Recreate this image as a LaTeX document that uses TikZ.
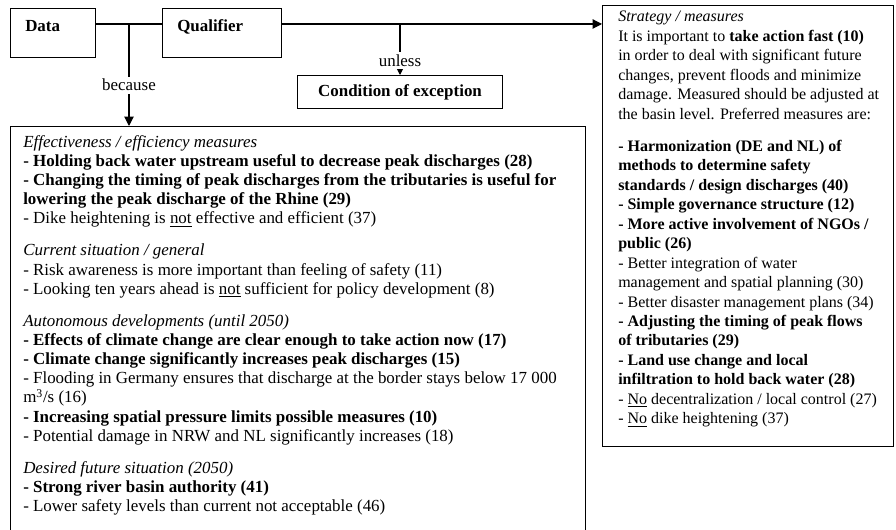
\documentclass[tikz,border=0pt]{standalone}
\usepackage{fontspec}
\setmainfont{Liberation Serif}
\usetikzlibrary{arrows.meta,positioning}
\tikzstyle{arrow} = [line width=0.8pt,-{Triangle[length=7pt,width=7pt]}]
\tikzstyle{link} = [line width=0.8pt]
\tikzstyle{claim} = [rectangle, draw, line width=0.8pt, anchor=north west, inner sep=0pt]
\tikzstyle{panel} = [rectangle, draw, line width=0.8pt, anchor=north west, inner sep=0pt]
\tikzstyle{txt} = [anchor=north west, align=left, inner sep=0pt, font=\fontsize{12.7}{14.4}\selectfont]
\tikzstyle{tag} = [fill=white, inner xsep=1pt, inner ysep=2pt, font=\fontsize{12.7}{14}\selectfont]

\begin{document}
\begin{tikzpicture}[x=0.75pt, y=-0.75pt]
\useasboundingbox (0,0) rectangle (896,530);
% argument boxes
\node (data) [claim, minimum width=63.75pt, minimum height=36.75pt] at (10,8) {};
\node (qual) [claim, minimum width=89.25pt, minimum height=36.75pt] at (162,8) {};
\node (cond) [claim, minimum width=153.75pt, minimum height=24.75pt, font=\bfseries\fontsize{12.7}{14}\selectfont] at (297,75) {Condition of exception};
\node (main) [panel, minimum width=431.25pt, minimum height=306pt] at (10,126) {};
\node (strat) [panel, minimum width=218.25pt, minimum height=330.75pt] at (602,5) {};

\node (datalbl) [anchor=base west, inner sep=0pt, font=\bfseries\fontsize{12.7}{14}\selectfont] at (25,32) {Data};
\node (quallbl) [anchor=base west, inner sep=0pt, font=\bfseries\fontsize{12.7}{14}\selectfont] at (177,32) {Qualifier};

% connectors
\coordinate (bc) at (129,24);
\coordinate (ul) at (400,24);
\draw[link] ([yshift=-12pt]data.north east) -- ([yshift=-12pt]qual.north west);
\draw[arrow] ([yshift=-12pt]qual.north east) -- ([yshift=-14.25pt]strat.north west);
\draw[arrow] (bc) -- (bc |- main.north) node[tag, pos=0.6] {because};
\draw[arrow] (ul) -- (ul |- cond.north) node[tag, pos=0.72] {unless};

% backing
\node (backing) [txt] at (23,135) {\textit{Effectiveness / efficiency measures}\\
\textbf{- Holding back water upstream useful to decrease peak discharges (28)}\\
\textbf{- Changing the timing of peak discharges from the tributaries is useful for}\\
\textbf{lowering the peak discharge of the Rhine (29)}\\
- Dike heightening is \underline{not} effective and efficient (37)\\[9.5pt]
\textit{Current situation / general}\\
- Risk awareness is more important than feeling of safety (11)\\
- Looking ten years ahead is \underline{not} sufficient for policy development (8)\\[9.5pt]
\textit{Autonomous developments (until 2050)}\\
\textbf{- Effects of climate change are clear enough to take action now (17)}\\
\textbf{- Climate change significantly increases peak discharges (15)}\\
- Flooding in Germany ensures that discharge at the border stays below 17 000\\
m\textsuperscript{3}/s (16)\\
\textbf{- Increasing spatial pressure limits possible measures (10)}\\
- Potential damage in NRW and NL significantly increases (18)\\[9.5pt]
\textit{Desired future situation (2050)}\\
\textbf{- Strong river basin authority (41)}\\
- Lower safety levels than current not acceptable (46)};

% claim
\node (strattxt) [txt, font=\fontsize{12}{14.6}\selectfont] at (618,11) {\textit{Strategy / measures}\\
It is important to \textbf{take action fast (10)}\\
in order to deal with significant future\\
changes, prevent floods and minimize\\
damage. Measured should be adjusted at\\
the basin level. Preferred measures are:\\[9.5pt]
\textbf{- Harmonization (DE and NL) of}\\
\textbf{methods to determine safety}\\
\textbf{standards / design discharges (40)}\\
\textbf{- Simple governance structure (12)}\\
\textbf{- More active involvement of NGOs /}\\
\textbf{public (26)}\\
- Better integration of water\\
management and spatial planning (30)\\
- Better disaster management plans (34)\\
\textbf{- Adjusting the timing of peak flows}\\
\textbf{of tributaries (29)}\\
\textbf{- Land use change and local}\\
\textbf{infiltration to hold back water (28)}\\
- \underline{No} decentralization / local control (27)\\
- \underline{No} dike heightening (37)};
\end{tikzpicture}
\end{document}
